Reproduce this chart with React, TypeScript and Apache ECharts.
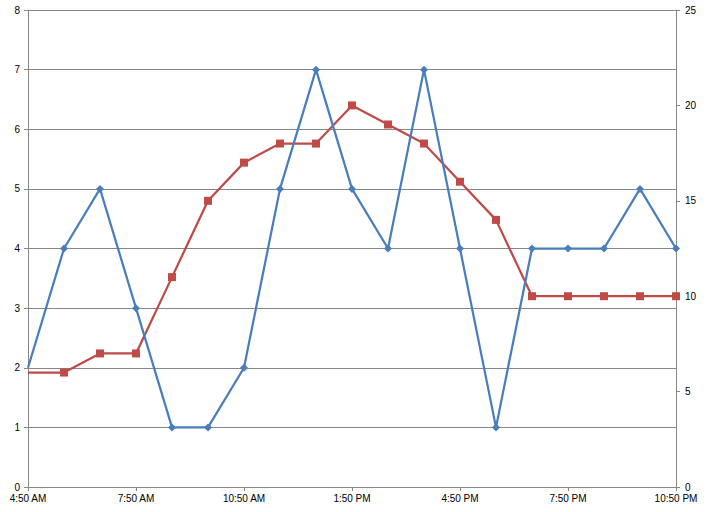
import React, { useEffect, useRef } from "react";
import * as echarts from "echarts";

const categories = [
  "4:50 AM", "5:50 AM", "6:50 AM", "7:50 AM", "8:50 AM", "9:50 AM", "10:50 AM",
  "11:50 AM", "12:50 PM", "1:50 PM", "2:50 PM", "3:50 PM", "4:50 PM", "5:50 PM",
  "6:50 PM", "7:50 PM", "8:50 PM", "9:50 PM", "10:50 PM",
];
const blueValues = [2, 4, 5, 3, 1, 1, 2, 5, 7, 5, 4, 7, 4, 1, 4, 4, 4, 5, 4];
const redValues = [6, 6, 7, 7, 11, 15, 17, 18, 18, 20, 19, 18, 16, 14, 10, 10, 10, 10, 10];

const FONT = "'Liberation Sans', Arial, sans-serif";
const AXIS_GRAY = "#868686";

export default function App() {
  const ref = useRef<HTMLDivElement>(null);
  useEffect(() => {
    document.body.style.margin = "0";
    if (!ref.current) return;
    const chart = echarts.init(ref.current, null, { renderer: "svg" });
    const withFirstHidden = (arr: number[]) =>
      arr.map((v, i) => (i === 0 ? { value: v, symbol: "none" } : v));
    chart.setOption({
      animation: false,
      backgroundColor: "#ffffff",
      grid: { left: 28, right: 31, top: 10, bottom: 25, containLabel: false },
      xAxis: {
        type: "category",
        data: categories,
        boundaryGap: false,
        axisLine: { lineStyle: { color: AXIS_GRAY, width: 1 } },
        axisTick: { show: true, interval: 2, length: 4, lineStyle: { color: AXIS_GRAY } },
        axisLabel: { interval: 2, color: "#000", fontFamily: FONT, fontSize: 10, margin: 6 },
        splitLine: { show: false },
      },
      yAxis: [
        {
          type: "value",
          min: 0,
          max: 8,
          interval: 1,
          position: "left",
          axisLine: { show: true, lineStyle: { color: AXIS_GRAY, width: 1 } },
          axisTick: { show: true, length: 4, lineStyle: { color: AXIS_GRAY } },
          axisLabel: { color: "#000", fontFamily: FONT, fontSize: 10, margin: 8 },
          splitLine: { show: true, lineStyle: { color: AXIS_GRAY, width: 1 } },
        },
        {
          type: "value",
          min: 0,
          max: 25,
          interval: 5,
          position: "right",
          axisLine: { show: true, lineStyle: { color: AXIS_GRAY, width: 1 } },
          axisTick: { show: true, length: 4, lineStyle: { color: AXIS_GRAY } },
          axisLabel: { color: "#000", fontFamily: FONT, fontSize: 10, margin: 9 },
          splitLine: { show: false },
        },
      ],
      series: [
        {
          name: "Blue",
          type: "line",
          yAxisIndex: 0,
          data: withFirstHidden(blueValues),
          symbol: "diamond",
          symbolSize: 8,
          lineStyle: { color: "#4A7EBB", width: 2.25 },
          itemStyle: { color: "#4A7EBB" },
          z: 3,
        },
        {
          name: "Red",
          type: "line",
          yAxisIndex: 1,
          data: withFirstHidden(redValues),
          symbol: "rect",
          symbolSize: 8,
          lineStyle: { color: "#BE4B48", width: 2.25 },
          itemStyle: { color: "#BE4B48" },
          z: 2,
        },
      ],
    });
    return () => chart.dispose();
  }, []);
  return <div ref={ref} style={{ width: 707, height: 512 }} />;
}
